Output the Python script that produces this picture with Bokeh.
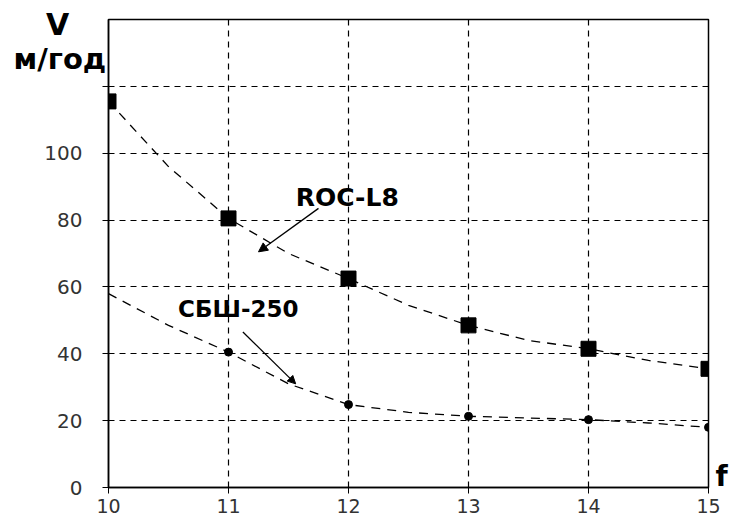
from bokeh.plotting import figure
from bokeh.models import Range1d, FixedTicker, Label, Arrow, NormalHead, Title
from bokeh.embed import file_html
from bokeh.resources import INLINE

# Data
f_points = [10, 11, 12, 13, 14, 15]
roc_l8 = [115.5, 80.5, 62.5, 48.5, 41.5, 35.5]
sbsh_points_x = [11, 12, 13, 14, 15]
sbsh_250 = [40.5, 24.8, 21.3, 20.3, 18.0]

# Fitted curves (half-step readings)
curve_f = [10, 10.5, 11, 11.5, 12, 12.5, 13, 13.5, 14, 14.5, 15]
roc_curve = [115.5, 96, 80.5, 70, 62.5, 54.5, 48.5, 44, 41.5, 38, 35.5]
sbsh_curve = [58, 48.5, 40.5, 31, 24.8, 22.5, 21.3, 20.8, 20.3, 19.3, 18.0]

x_ticks = [10, 11, 12, 13, 14, 15]
y_ticks = [0, 20, 40, 60, 80, 100, 120]

TICKFONT = "DejaVu Sans"
BOLD = "DejaVu Sans"

p = figure(width=729, height=521, output_backend="svg", toolbar_location=None,
           x_range=Range1d(10, 15), y_range=Range1d(0, 140))
p.min_border_left = 108
p.min_border_right = 21
p.min_border_top = 19
p.min_border_bottom = 34
p.background_fill_color = "white"
p.border_fill_color = "white"
p.outline_line_color = "black"
p.outline_line_width = 1.5

for ax in (p.xaxis[0], p.yaxis[0]):
    ax.axis_line_color = "black"
    ax.axis_line_width = 1.5
    ax.major_tick_line_color = "black"
    ax.major_tick_in = 0
    ax.major_tick_out = 6
    ax.minor_tick_line_color = None
    ax.major_label_text_font = TICKFONT
    ax.major_label_text_color = "#333333"

p.xaxis[0].major_label_text_font_size = "19px"
p.yaxis[0].major_label_text_font_size = "20px"
p.xaxis[0].ticker = FixedTicker(ticks=x_ticks)
p.yaxis[0].ticker = FixedTicker(ticks=y_ticks)
p.yaxis[0].major_label_overrides = {120: ""}
p.xaxis[0].major_label_standoff = 5
p.yaxis[0].major_label_standoff = 20

for g in (p.xgrid[0], p.ygrid[0]):
    g.grid_line_color = "black"
    g.grid_line_dash = "6 5"
    g.grid_line_width = 1.2
p.xgrid[0].ticker = FixedTicker(ticks=[11, 12, 13, 14])
p.ygrid[0].ticker = FixedTicker(ticks=[20, 40, 60, 80, 100, 120])

# curves
p.line(curve_f, roc_curve, line_color="black", line_width=1.3, line_dash="9 7")
p.line(curve_f, sbsh_curve, line_color="black", line_width=1.3, line_dash="9 7")

# markers
p.scatter(f_points, roc_l8, marker="square", size=15, color="black")
p.scatter(sbsh_points_x, sbsh_250, marker="circle", size=8, color="black")

# annotations
p.add_layout(Label(x=11.56, y=86.8, text="ROC-L8", text_font=BOLD, text_font_style="bold",
                   text_font_size="25px", text_baseline="middle", text_align="left", text_color="black"))
p.add_layout(Arrow(end=NormalHead(size=9, fill_color="black", line_color="black"),
                   x_start=11.75, y_start=83.5, x_end=11.25, y_end=70.5,
                   line_color="black", line_width=1.3))
p.add_layout(Label(x=10.58, y=53.3, text="СБШ-250", text_font=BOLD, text_font_style="bold",
                   text_font_size="23px", text_baseline="middle", text_align="left", text_color="black"))
p.add_layout(Arrow(end=NormalHead(size=8, fill_color="black", line_color="black"),
                   x_start=11.12, y_start=46.5, x_end=11.56, y_end=31.0,
                   line_color="black", line_width=1.3))

# axis titles, placed in side panels so they are not clipped to the frame
p.add_layout(Label(x=57, y=24, x_units="canvas", y_units="canvas", text="V", text_font=BOLD,
                   text_font_style="bold", text_font_size="30px", text_baseline="middle",
                   text_align="center", text_color="black"), "left")
p.add_layout(Title(text="м/год", align="left", offset=-95, vertical_align="bottom", standoff=-112,
                   text_font=BOLD, text_font_style="bold", text_font_size="29px",
                   text_color="black"), "above")
p.add_layout(Label(x=721, y=476, x_units="canvas", y_units="canvas", text="f", text_font=BOLD,
                   text_font_style="bold", text_font_size="28px", text_baseline="middle",
                   text_align="center", text_color="black"), "right")

open("out.html", "w").write(file_html(p, INLINE))
